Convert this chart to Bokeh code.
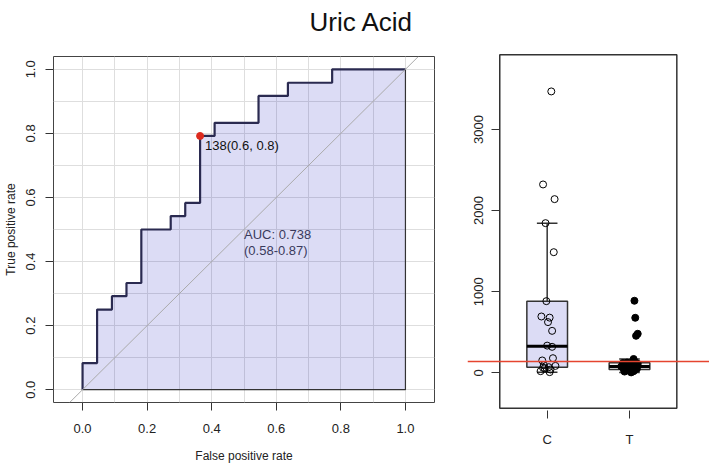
import numpy as np
from bokeh.plotting import figure
from bokeh.layouts import row, column
from bokeh.models import Range1d, FixedTicker, Span, Slope, NumeralTickFormatter
from bokeh.embed import file_html
from bokeh.resources import INLINE
from bokeh.core.properties import value

# ---------------- data ----------------
title_text = ["Uric Acid"]

# ROC curve steps (false positive rate, true positive rate)
fpr = [0.0, 0.0, 0.045, 0.045, 0.091, 0.091, 0.136, 0.136, 0.182, 0.182,
       0.273, 0.273, 0.318, 0.318, 0.364, 0.364, 0.409, 0.409, 0.545, 0.545,
       0.636, 0.636, 0.773, 0.773, 1.0]
tpr = [0.0, 0.083, 0.083, 0.25, 0.25, 0.292, 0.292, 0.333, 0.333, 0.5,
       0.5, 0.542, 0.542, 0.583, 0.583, 0.792, 0.792, 0.833, 0.833, 0.917,
       0.917, 0.958, 0.958, 1.0, 1.0]
best_fpr = [0.364]
best_tpr = [0.792]
best_label = ["138(0.6, 0.8)"]
auc_lines = ["AUC: 0.738", "(0.58-0.87)"]
auc_x = [0.5, 0.5]
auc_y = [0.485, 0.433]
roc_ticks = [0.0, 0.2, 0.4, 0.6, 0.8, 1.0]
roc_grid = [-0.1, 0.0, 0.1, 0.2, 0.3, 0.4, 0.5, 0.6, 0.7, 0.8, 0.9, 1.0, 1.1]

# Box plot groups
groups = ["C", "T"]
c_values = [3469, 2322, 2141, 1845, 1487, 883, 694, 680, 625, 517, 335, 320,
            180, 152, 95, 85, 69, 62, 55, 40, 20, 8]
c_jitter = [0.05, -0.05, 0.09, -0.02, 0.08, -0.01, -0.07, 0.03, 0.01, 0.06, 0.0, 0.06,
            0.07, -0.06, -0.04, 0.1, 0.02, -0.05, -0.03, 0.04, -0.08, 0.03]
t_values = [888, 678, 481, 456, 170, 126, 123, 120, 118, 110, 100, 80,
            78, 76, 70, 60, 50, 45, 38, 36, 30, 20, 15, 5]
t_jitter = [0.06, 0.07, 0.1, 0.08, 0.05, -0.03, 0.08, -0.08, 0.02, 0.1, -0.05, 0.04,
            -0.1, 0.07, 0.0, -0.04, 0.09, -0.07, 0.03, 0.06, -0.02, 0.05, -0.06, 0.02]
cutoff = 139
box_ticks = [0, 1000, 2000, 3000]

FONT = "Liberation Sans"
TOP = 40  # height of the title strip


def no_align(fig):
    if "frame_align" in fig.properties():
        fig.frame_align = False


# ---------------- title strip ----------------
pt = figure(width=709, height=TOP, x_range=Range1d(0, 709), y_range=Range1d(0, TOP),
            output_backend="svg", toolbar_location=None,
            min_border_left=0, min_border_right=0, min_border_top=0, min_border_bottom=0)
no_align(pt)
pt.axis.visible = False
pt.grid.visible = False
pt.outline_line_color = None
pt.text(x=[361], y=[TOP - 21], text=title_text, text_font=value(FONT), text_font_size="26px",
        text_color="#111111", text_align="center", text_baseline="alphabetic")

# ---------------- ROC panel ----------------
p1 = figure(width=437, height=465 - TOP, x_range=Range1d(-0.09, 1.09), y_range=Range1d(-0.04, 1.04),
            output_backend="svg", toolbar_location=None,
            min_border_left=52, min_border_right=3, min_border_top=56 - TOP, min_border_bottom=59)
no_align(p1)
p1.outline_line_color = "#444444"
p1.outline_line_width = 1
p1.background_fill_color = "white"
p1.border_fill_color = "white"

for g in (p1.xgrid, p1.ygrid):
    g.ticker = FixedTicker(ticks=roc_grid)
    g.grid_line_color = "#dedede"
    g.grid_line_width = 1

for ax in (p1.xaxis, p1.yaxis):
    ax.ticker = FixedTicker(ticks=roc_ticks)
    ax.formatter = NumeralTickFormatter(format="0.0")
    ax.axis_line_color = None
    ax.major_tick_out = 8
    ax.major_tick_in = 0
    ax.minor_tick_line_color = None
    ax.major_tick_line_color = "#333333"
    ax.major_label_text_font = FONT
    ax.major_label_text_font_size = "13px"
    ax.major_label_text_color = "#222222"
    ax.axis_label_text_font = FONT
    ax.axis_label_text_font_size = "12px"
    ax.axis_label_text_font_style = "normal"
    ax.axis_label_text_color = "#222222"
p1.xaxis.axis_label = "False positive rate"
p1.yaxis.axis_label = "True positive rate"
p1.xaxis.major_label_standoff = 13
p1.xaxis.axis_label_standoff = 13
p1.yaxis.major_label_orientation = "vertical"
p1.yaxis.major_label_standoff = 10
p1.yaxis.axis_label_standoff = 6

# filled area under curve
p1.patch(fpr + [1.0], tpr + [0.0], fill_color="#0000b4", fill_alpha=0.137, line_color=None)
# diagonal
p1.add_layout(Slope(gradient=1, y_intercept=0, line_color="#aaaaaa", line_width=1))
# closing edges
p1.line([1.0, 1.0, 0.0], [1.0, 0.0, 0.0], line_color="#333333", line_width=1.2)
# ROC curve
p1.line(fpr, tpr, line_color="#2a2a50", line_width=2.2)
# best threshold
p1.scatter(best_fpr, best_tpr, size=7, fill_color="#dd2a1e", line_color="#dd2a1e")
p1.text(best_fpr, best_tpr, text=best_label, x_offset=5, y_offset=2,
        text_font=value(FONT), text_font_size="13px", text_color="#111111",
        text_baseline="top", text_align="left")
p1.text(auc_x, auc_y, text=auc_lines, text_font=value(FONT), text_font_size="13px",
        text_color="#3a3a5c", text_baseline="middle", text_align="left")

# ---------------- Box plot panel ----------------
box_l, box_r = 0.424, 2.575
box_b, box_t = -436, 3921
p2 = figure(width=272, height=465 - TOP, x_range=Range1d(0.032, 2.972), y_range=Range1d(-465, 3949),
            output_backend="svg", toolbar_location=None,
            min_border_left=30, min_border_right=0, min_border_top=52 - TOP, min_border_bottom=55)
no_align(p2)
p2.outline_line_color = None
p2.grid.visible = False
p2.background_fill_color = "white"
p2.border_fill_color = "white"

for ax in (p2.xaxis, p2.yaxis):
    ax.axis_line_color = None
    ax.major_tick_out = 8
    ax.major_tick_in = 0
    ax.minor_tick_line_color = None
    ax.major_tick_line_color = "#333333"
    ax.major_label_text_font = FONT
    ax.major_label_text_font_size = "13px"
    ax.major_label_text_color = "#222222"
p2.yaxis.ticker = FixedTicker(ticks=box_ticks)
p2.yaxis.major_label_orientation = "vertical"
p2.yaxis.major_label_standoff = 9
p2.yaxis.fixed_location = box_l
p2.xaxis.ticker = FixedTicker(ticks=[1, 2])
p2.xaxis.major_label_overrides = {1: groups[0], 2: groups[1]}
p2.xaxis.major_label_standoff = 13


def fivenum(v):
    s = np.sort(np.asarray(v, dtype=float))
    n = len(s)
    n4 = np.floor((n + 3) / 2) / 2
    d = np.array([1, n4, (n + 1) / 2, n + 1 - n4, n]) - 1
    return 0.5 * (s[np.floor(d).astype(int)] + s[np.ceil(d).astype(int)])


fills = ["#dcdcf5", "#f2f2f2"]
half = 0.247
cap = 0.125
for i, vals in enumerate([c_values, t_values]):
    xc = i + 1
    mn, q1, med, q3, mx = fivenum(vals)
    iqr = q3 - q1
    arr = np.asarray(vals, dtype=float)
    up = arr[arr <= q3 + 1.5 * iqr].max()
    lo = arr[arr >= q1 - 1.5 * iqr].min()
    p2.segment(x0=[xc, xc], y0=[q3, q1], x1=[xc, xc], y1=[up, lo], line_color="#333333", line_width=1.5)
    p2.segment(x0=[xc - cap, xc - cap], y0=[up, lo], x1=[xc + cap, xc + cap], y1=[up, lo],
               line_color="#333333", line_width=1.5)
    p2.quad(left=[xc - half], right=[xc + half], bottom=[q1], top=[q3],
            fill_color=fills[i], line_color="#333333", line_width=1.5)
    p2.segment(x0=[xc - half], y0=[med], x1=[xc + half], y1=[med], line_color="black", line_width=3)

p2.scatter(x=[1 + j for j in c_jitter], y=c_values, size=7, marker="circle",
           fill_color=None, line_color="black", line_width=1)
p2.scatter(x=[2 + j for j in t_jitter], y=t_values, size=7, marker="circle",
           fill_color="black", line_color="black", line_width=1)

p2.quad(left=[box_l], right=[box_r], bottom=[box_b], top=[box_t],
        fill_color=None, line_color="#333333", line_width=1.5)
p2.add_layout(Span(location=cutoff, dimension="width", line_color="#e5442f", line_width=1.4))

layout = column(pt, row(p1, p2))
open("out.html", "w").write(file_html(layout, INLINE))
